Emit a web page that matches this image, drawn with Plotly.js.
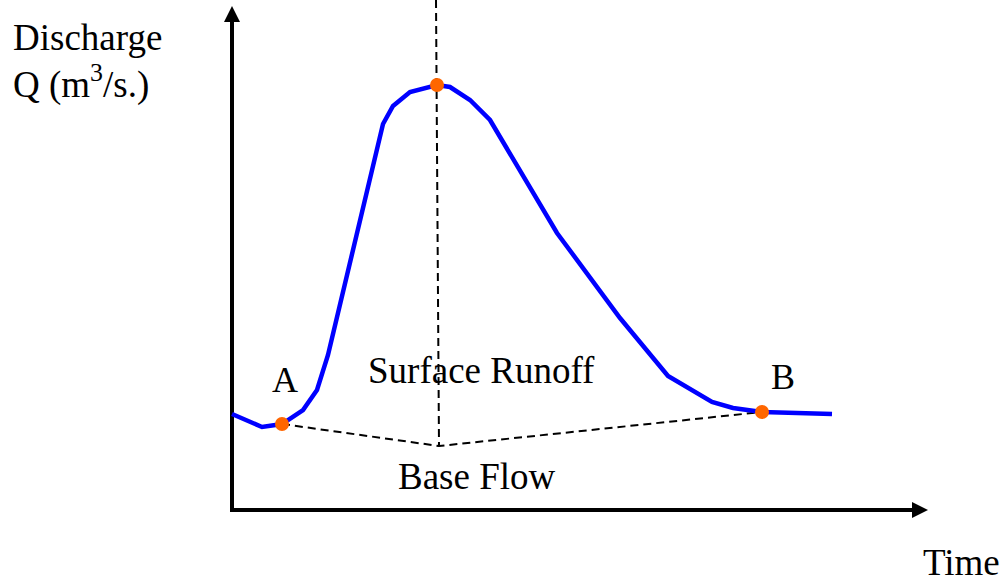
<!DOCTYPE html>
<html>
<head>
<meta charset="utf-8">
<script src="https://cdn.plot.ly/plotly-3.0.1.min.js"></script>
<style>
  html, body { margin: 0; padding: 0; background: #fff; }
  #chart { width: 1005px; height: 583px; }
</style>
</head>
<body>
<div id="chart"></div>
<script>
// Hydrograph (arbitrary time / discharge units)
var timeValues = [0, 3.0, 5.0, 7.1, 8.5, 9.6, 15.1, 16.1, 17.8, 20.5, 21.8, 23.8, 25.8, 29.6, 32.5, 38.8, 43.6, 48.0, 50.1, 53.0, 60.0];
var dischargeValues = [9.6, 8.3, 8.6, 10.0, 12.0, 15.5, 38.6, 40.4, 41.8, 42.5, 42.3, 41.0, 39.0, 32.7, 27.7, 19.2, 13.4, 10.8, 10.2, 9.8, 9.6];

// Key points: A (start of rise), Peak, B (end of surface runoff)
var keyTimes = [5.0, 20.5, 53.0];
var keyDischarge = [8.6, 42.5, 9.8];

// Base flow separation line: A -> below peak -> B
var baseFlowTimes = [5.0, 20.7, 53.0];
var baseFlowValues = [8.6, 6.4, 9.8];

// Vertical line through the peak
var peakLineTimes = [20.4, 20.7];
var peakLineValues = [51.0, 6.4];

// Axes: origin and arrow tips
var originTime = 0, originDischarge = 0;
var timeAxisEnd = 69.6;
var dischargeAxisEnd = 50.4;
var arrowBack = 0.9; // shaft stops under the arrow head

var FONT = '"Liberation Serif", "Times New Roman", serif';

var traces = [
  // time axis shaft + head
  {
    x: [originTime, timeAxisEnd - arrowBack], y: [originDischarge, originDischarge], mode: 'lines',
    line: {color: '#000', width: 4}, hoverinfo: 'skip'
  },
  {
    x: [timeAxisEnd], y: [originDischarge], mode: 'markers',
    marker: {symbol: 'arrow-right', size: 16, color: '#000', line: {width: 0}}, hoverinfo: 'skip'
  },
  // discharge axis shaft + head
  {
    x: [originTime, originTime], y: [originDischarge - 0.2, dischargeAxisEnd - arrowBack], mode: 'lines',
    line: {color: '#000', width: 4}, hoverinfo: 'skip'
  },
  {
    x: [originTime], y: [dischargeAxisEnd], mode: 'markers',
    marker: {symbol: 'arrow-up', size: 16, color: '#000', line: {width: 0}}, hoverinfo: 'skip'
  },
  {
    x: peakLineTimes, y: peakLineValues, mode: 'lines',
    line: {color: '#000', width: 2, dash: '8px,5px'}, hoverinfo: 'skip'
  },
  {
    x: baseFlowTimes, y: baseFlowValues, mode: 'lines',
    line: {color: '#000', width: 2, dash: '8px,5px'}, hoverinfo: 'skip'
  },
  {
    x: timeValues, y: dischargeValues, mode: 'lines',
    line: {color: '#0000FF', width: 4.5}
  },
  {
    x: keyTimes, y: keyDischarge, mode: 'markers',
    marker: {color: '#FF6600', size: 14}
  }
];

var bigFont = {family: FONT, size: 37, color: '#000'};
var letterFont = {family: FONT, size: 36, color: '#000'};
var labels = [
  {text: 'A', x: 5.25, y: 13.05, font: letterFont},
  {text: 'Surface Runoff', x: 24.95, y: 13.96, font: bigFont},
  {text: 'B', x: 55.05, y: 13.3, font: letterFont},
  {text: 'Base Flow', x: 24.5, y: 3.4, font: bigFont},
  {text: 'Time', x: 72.95, y: -5.25, font: bigFont}
];

var annotations = labels.map(function (l) {
  return {
    text: l.text, x: l.x, y: l.y, xref: 'x', yref: 'y',
    xanchor: 'center', yanchor: 'middle', showarrow: false, font: l.font
  };
});

annotations.push({
  text: 'Discharge', x: -22.1, y: 47.26, xref: 'x', yref: 'y',
  xanchor: 'left', yanchor: 'middle', showarrow: false, font: bigFont
});
annotations.push({
  text: 'Q (m<sup>3</sup>/s.)', x: -22.1, y: 42.8, xref: 'x', yref: 'y',
  xanchor: 'left', yanchor: 'middle', showarrow: false, font: bigFont
});

var layout = {
  width: 1005, height: 583,
  margin: {l: 0, r: 0, t: 0, b: 0},
  paper_bgcolor: '#fff', plot_bgcolor: '#fff',
  showlegend: false,
  xaxis: {range: [-23.2, 77.3], visible: false, fixedrange: true},
  yaxis: {range: [-7.3, 51.0], visible: false, fixedrange: true},
  annotations: annotations
};

Plotly.newPlot('chart', traces, layout, {staticPlot: true, displayModeBar: false});
</script>
</body>
</html>
